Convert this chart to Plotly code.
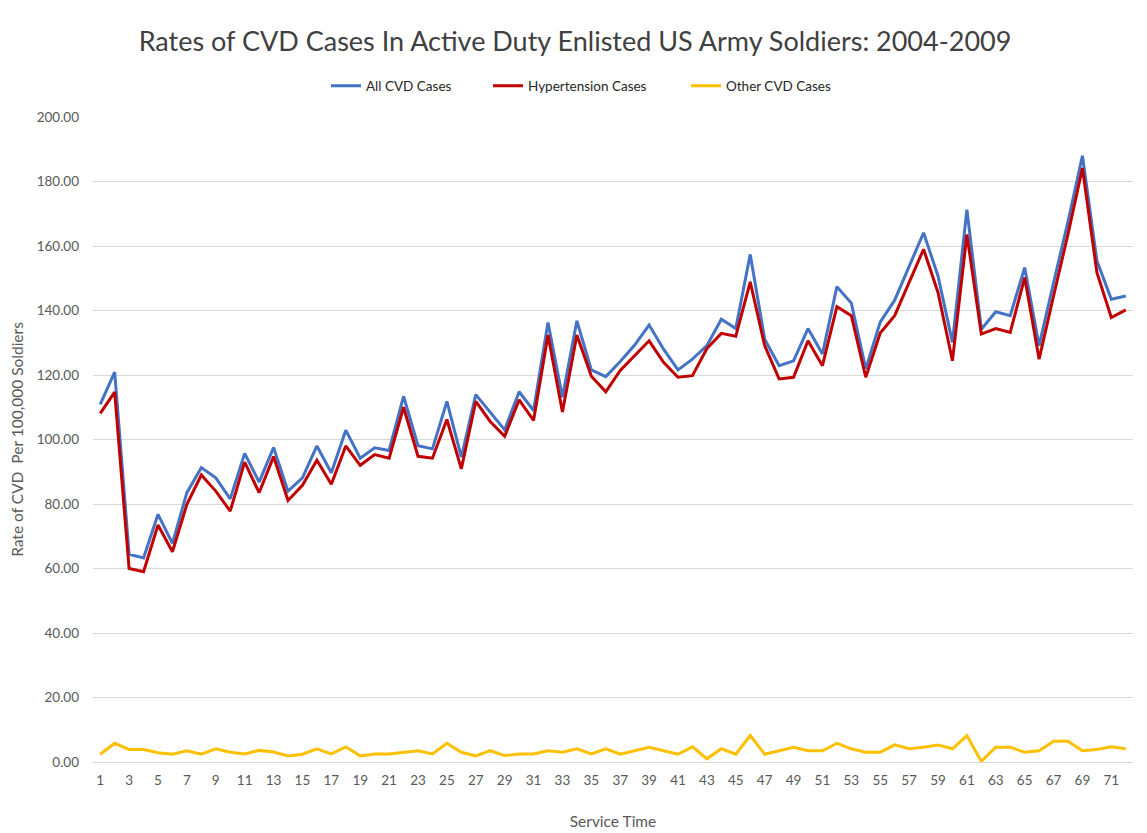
import plotly.graph_objects as go

service_time = list(range(1, 73))

all_cvd = [110.9, 120.9, 64.4, 63.3, 76.8, 67.8, 83.5, 91.3, 88.1, 81.6,
           95.7, 86.8, 97.5, 84.0, 88.1, 98.0, 89.7, 102.9, 94.2, 97.4,
           96.6, 113.4, 98.1, 97.1, 111.8, 94.5, 113.9, 108.5, 103.0, 114.8,
           109.0, 136.3, 113.1, 136.8, 121.6, 119.5, 124.2, 129.3, 135.5, 128.0,
           121.6, 124.9, 129.1, 137.3, 134.4, 157.4, 131.1, 122.9, 124.4, 134.4,
           126.5, 147.4, 142.3, 121.9, 136.4, 143.2, 153.8, 164.1, 150.7, 130.1,
           171.3, 134.2, 139.6, 138.4, 153.3, 129.1, 148.6, 167.6, 188.0, 155.4,
           143.5, 144.5]

hypertension = [108.1, 114.7, 60.0, 59.0, 73.5, 65.2, 79.9, 89.0, 84.0, 77.8,
                93.0, 83.5, 94.7, 81.1, 85.8, 93.6, 86.1, 98.0, 92.0, 95.3,
                94.2, 110.0, 94.8, 94.2, 106.2, 90.9, 111.8, 105.6, 101.0, 112.3,
                105.9, 132.4, 108.5, 132.4, 119.6, 114.8, 121.4, 126.0, 130.6, 123.9,
                119.3, 119.8, 128.2, 132.9, 132.0, 148.9, 129.1, 118.8, 119.3, 130.6,
                122.9, 141.2, 138.4, 119.3, 133.0, 138.4, 148.7, 159.0, 145.6, 124.4,
                163.6, 132.7, 134.4, 133.2, 150.2, 124.9, 144.5, 163.7, 184.2, 151.8,
                137.8, 140.2]

other_cvd = [2.4, 5.8, 3.9, 3.9, 2.9, 2.4, 3.5, 2.4, 4.1, 3.0,
             2.5, 3.6, 3.1, 1.9, 2.4, 4.1, 2.5, 4.7, 1.9, 2.5,
             2.5, 2.9, 3.5, 2.5, 5.8, 3.0, 1.9, 3.5, 2.0, 2.5,
             2.5, 3.5, 3.0, 4.1, 2.5, 4.1, 2.4, 3.5, 4.6, 3.5,
             2.4, 4.7, 1.0, 4.1, 2.4, 8.2, 2.4, 3.5, 4.6, 3.5,
             3.5, 5.8, 4.1, 3.0, 3.0, 5.3, 4.1, 4.6, 5.3, 4.1,
             8.2, 0.2, 4.6, 4.6, 3.0, 3.5, 6.4, 6.4, 3.5, 3.9,
             4.7, 4.1]

x_tick_vals = list(range(1, 72, 2))
y_tick_vals = [0, 20, 40, 60, 80, 100, 120, 140, 160, 180, 200]

FONT = "Lato"
TEXT = "#595959"

fig = go.Figure()
fig.add_trace(go.Scatter(x=service_time, y=all_cvd, mode="lines", name="All CVD Cases",
                         line=dict(color="#4472C4", width=3), legendwidth=117))
fig.add_trace(go.Scatter(x=service_time, y=hypertension, mode="lines", name="Hypertension Cases",
                         line=dict(color="#C00000", width=3), legendwidth=153))
fig.add_trace(go.Scatter(x=service_time, y=other_cvd, mode="lines", name="Other CVD Cases",
                         line=dict(color="#FFC000", width=3), legendwidth=112))

# page body has an 8px margin, so the figure is sized to fit inside the window
fig.update_layout(
    width=1139, height=825,
    paper_bgcolor="white", plot_bgcolor="white",
    margin=dict(l=85, r=14, t=109, b=71),
    font=dict(family=FONT, color=TEXT, size=13),
    title=dict(text="Rates of CVD Cases In Active Duty Enlisted US Army Soldiers: 2004-2009",
               x=(575 - 8) / 1139, xanchor="center", y=1 - (42 - 8) / 825, yanchor="middle",
               font=dict(family=FONT, size=27, color="#404040")),
    legend=dict(orientation="h", x=(326 - 93) / 1040, xanchor="left", y=1.048, yanchor="middle",
                font=dict(family=FONT, size=13.5, color="#262626"),
                itemwidth=30, tracegroupgap=0),
    showlegend=True,
)
fig.update_xaxes(
    range=[0.5, 72.5], tickmode="array", tickvals=x_tick_vals,
    ticktext=[str(v) for v in x_tick_vals],
    showgrid=False, zeroline=False, showline=True, linecolor="#d9d9d9", linewidth=1,
    ticks="", ticklabelstandoff=6, automargin=False,
    tickfont=dict(family=FONT, size=13.5, color=TEXT),
    title=dict(text="Service Time", font=dict(family=FONT, size=15.5, color=TEXT), standoff=28),
)
fig.update_yaxes(
    range=[0, 200], tickmode="array", tickvals=y_tick_vals, tickformat=".2f",
    showgrid=True, gridcolor="#d9d9d9", gridwidth=1.3, zeroline=False, showline=False,
    ticks="", ticklabelstandoff=13, automargin=False,
    tickfont=dict(family=FONT, size=13.5, color=TEXT),
    title=dict(text="Rate of CVD  Per 100,000 Soldiers", font=dict(family=FONT, size=15.5, color=TEXT), standoff=9),
)

fig.write_html("out.html")
